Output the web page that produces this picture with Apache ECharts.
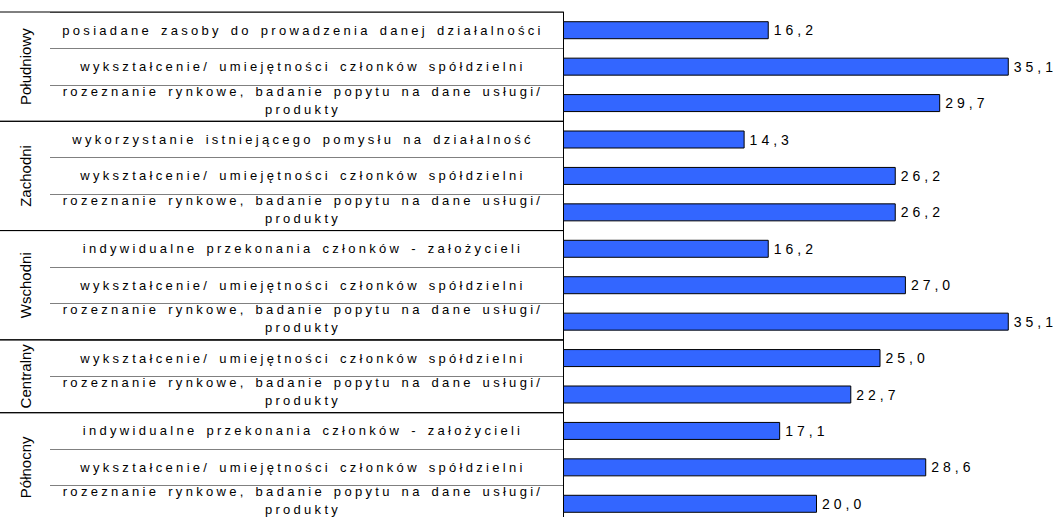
<!DOCTYPE html>
<html>
<head>
<meta charset="utf-8">
<script src="https://cdn.jsdelivr.net/npm/echarts@6/dist/echarts.min.js"></script>
<style>
  html, body { margin: 0; padding: 0; background: #fff; }
  #chart { width: 1059px; height: 517px; }
  #chart text[style*="Liberation"][style*="13px"] { letter-spacing: 3.3px; word-spacing: 2px; }
  #chart text[style*="Liberation"][style*="14px"] { letter-spacing: 4px; }
</style>
</head>
<body>
<div id="chart"></div>
<script>
const groups = ['Południowy', 'Zachodni', 'Wschodni', 'Centralny', 'Północny'];
const groupSizes = [3, 3, 3, 2, 3];
const categories = [
  'posiadane zasoby do prowadzenia danej działalności',
  'wykształcenie/ umiejętności członków spółdzielni',
  'rozeznanie rynkowe, badanie popytu na dane usługi/\nprodukty',
  'wykorzystanie istniejącego pomysłu na działalność',
  'wykształcenie/ umiejętności członków spółdzielni',
  'rozeznanie rynkowe, badanie popytu na dane usługi/\nprodukty',
  'indywidualne przekonania członków - założycieli',
  'wykształcenie/ umiejętności członków spółdzielni',
  'rozeznanie rynkowe, badanie popytu na dane usługi/\nprodukty',
  'wykształcenie/ umiejętności członków spółdzielni',
  'rozeznanie rynkowe, badanie popytu na dane usługi/\nprodukty',
  'indywidualne przekonania członków - założycieli',
  'wykształcenie/ umiejętności członków spółdzielni',
  'rozeznanie rynkowe, badanie popytu na dane usługi/\nprodukty'
];
const values = [16.2, 35.1, 29.7, 14.3, 26.2, 26.2, 16.2, 27.0, 35.1, 25.0, 22.7, 17.1, 28.6, 20.0];

const groupData = [];
let start = 0;
groupSizes.forEach(function (n) { groupData.push([start, n]); start += n; });

const chart = echarts.init(document.getElementById('chart'), null, { renderer: 'svg' });
chart.setOption({
  animation: false,
  backgroundColor: '#fff',
  grid: { left: 563, top: 12, width: 508, height: 510, outerBoundsMode: 'none', containLabel: false },
  xAxis: {
    type: 'value', min: 0, max: 40,
    axisLine: { show: false }, axisTick: { show: false },
    axisLabel: { show: false }, splitLine: { show: false }
  },
  yAxis: {
    type: 'category',
    data: categories,
    inverse: true,
    axisLine: { show: true, lineStyle: { color: '#000', width: 1 } },
    axisTick: { show: true, length: 513, lineStyle: { color: '#808080', width: 1 } },
    axisLabel: {
      align: 'center', margin: 260, color: '#000',
      fontFamily: 'Liberation Sans', fontSize: 13, lineHeight: 18,
      formatter: function (v) {
        const lines = v.split('\n');
        let s = lines.map(function (l) { return '{t|' + l + '}'; }).join('\n');
        if (lines.length > 1) s += '\n{g| }';
        return s;
      },
      rich: {
        t: { fontFamily: 'Liberation Sans', fontSize: 13, lineHeight: 18, color: '#000', align: 'center' },
        g: { fontFamily: 'Arial', fontSize: 5, lineHeight: 6, align: 'center' }
      }
    }
  },
  series: [
    {
      type: 'bar',
      data: values,
      barWidth: 18,
      itemStyle: { color: '#3366FF', borderColor: '#000', borderWidth: 1 },
      label: {
        show: true, position: 'right', distance: 5, color: '#000',
        fontFamily: 'Liberation Sans', fontSize: 14,
        formatter: function (p) { return p.value.toFixed(1).replace('.', ','); }
      },
      z: 3
    },
    {
      type: 'custom',
      clip: false,
      silent: true,
      encode: { y: 0 },
      data: groupData,
      z: 4,
      renderItem: function (params, api) {
        const s = api.value(0), n = api.value(1);
        const band = api.size([0, 1])[1];
        const p0 = api.coord([0, s]);
        const top = p0[1] - band / 2;
        const bottom = api.coord([0, s + n - 1])[1] + band / 2;
        const x0 = p0[0];
        return {
          type: 'group',
          children: [
            { type: 'line', shape: { x1: 0, y1: top, x2: x0, y2: top }, style: { stroke: '#000', lineWidth: 1 } },
            { type: 'line', shape: { x1: 0, y1: bottom, x2: x0, y2: bottom }, style: { stroke: '#000', lineWidth: 1 } },
            {
              type: 'text', x: x0 - 538, y: (top + bottom) / 2, rotation: Math.PI / 2,
              style: {
                text: groups[params.dataIndex], fill: '#000', font: '15px Arial',
                align: 'center', verticalAlign: 'middle', textAlign: 'center', textVerticalAlign: 'middle'
              }
            }
          ]
        };
      }
    }
  ]
});
</script>
</body>
</html>
